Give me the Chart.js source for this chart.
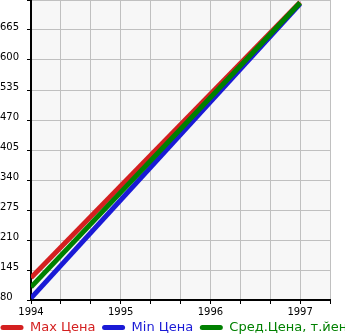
<!DOCTYPE html>
<html>
<head>
<meta charset="utf-8">
<script src="https://cdn.jsdelivr.net/npm/chart.js@4"></script>
<style>
  html, body { margin: 0; padding: 0; background: #fff; }
  #wrap { width: 345px; height: 335px; }
</style>
</head>
<body>
<div id="wrap"><canvas id="priceChart"></canvas></div>
<script>
// Chart values
const years = [1994, 1997];
const maxPrice = [128, 725];
const minPrice = [84, 722];
const avgPrice = [108, 724];
const seriesNames = ['Max Цена', 'Min Цена', 'Сред.Цена, т.йен'];
const seriesColors = ['rgb(212, 32, 32)', 'rgb(26, 26, 214)', 'rgb(0, 128, 0)'];
const yMin = 80, yMax = 730, yStep = 65;

function toPoints(values) {
    return years.map((y, i) => ({ x: y, y: values[i] }));
}

// Grey plot background
const plotBackground = {
    id: 'plotBackground',
    beforeDraw(chart) {
        const { ctx, chartArea: a } = chart;
        ctx.save();
        ctx.fillStyle = '#f7f7f7';
        ctx.fillRect(a.left, a.top, a.right - a.left, a.bottom - a.top);
        ctx.restore();
    }
};

// Legend drawn in one row, left aligned, allowed to run off the edge
const rowLegend = {
    id: 'rowLegend',
    afterDraw(chart) {
        const ctx = chart.ctx;
        const y = 327.5;
        let x = 0;
        ctx.save();
        ctx.font = '13px "DejaVu Sans"';
        ctx.textBaseline = 'middle';
        chart.data.datasets.forEach(ds => {
            ctx.strokeStyle = ds.borderColor;
            ctx.lineWidth = 5;
            ctx.lineCap = 'round';
            ctx.beginPath();
            ctx.moveTo(x + 3, y);
            ctx.lineTo(x + 21, y);
            ctx.stroke();
            ctx.fillStyle = ds.borderColor;
            ctx.fillText(ds.label, x + 30, y);
            x += 30 + ctx.measureText(ds.label).width + 6;
        });
        ctx.restore();
    }
};

const ctx = document.getElementById('priceChart').getContext('2d');
const priceChart = new Chart(ctx, {
    type: 'line',
    data: {
        datasets: [
            { label: seriesNames[0], data: toPoints(maxPrice), borderColor: seriesColors[0], order: 1 },
            { label: seriesNames[1], data: toPoints(minPrice), borderColor: seriesColors[1], order: 2 },
            { label: seriesNames[2], data: toPoints(avgPrice), borderColor: seriesColors[2], order: 0 }
        ].map(d => Object.assign(d, { borderWidth: 5, pointRadius: 0, fill: false, tension: 0 }))
    },
    options: {
        responsive: true,
        maintainAspectRatio: false,
        animation: false,
        layout: { padding: { top: 0, right: 15, bottom: 17, left: 0 } },
        plugins: {
            legend: { display: false },
            tooltip: { enabled: false }
        },
        scales: {
            x: {
                type: 'linear',
                min: years[0],
                max: years[years.length - 1] + 1 / 3,
                afterBuildTicks(scale) {
                    const t = [];
                    for (let k = 0; k <= 10; k++) t.push({ value: years[0] + k / 3 });
                    scale.ticks = t;
                },
                afterFit(scale) {
                    scale.height = 18;
                    scale.paddingLeft = 0;
                    scale.paddingRight = 0;
                },
                grid: { color: '#c0c0c0', tickColor: '#000', tickLength: 4 },
                border: { color: '#000', width: 2 },
                ticks: {
                    autoSkip: false,
                    maxRotation: 0,
                    padding: 2,
                    color: '#000',
                    font: { family: 'DejaVu Sans', size: 10 },
                    callback(v) {
                        const r = Math.round(v);
                        return Math.abs(v - r) < 1e-6 ? String(r) : '';
                    }
                }
            },
            y: {
                min: yMin,
                max: yMax,
                afterFit(scale) {
                    scale.width = 31;
                    scale.paddingTop = 0;
                    scale.paddingBottom = 0;
                },
                grid: { color: '#c0c0c0', tickColor: '#000', tickLength: 4 },
                border: { color: '#000', width: 2 },
                ticks: {
                    stepSize: yStep,
                    crossAlign: 'far',
                    labelOffset: -3,
                    color: '#000',
                    font: { family: 'DejaVu Sans', size: 10 },
                    callback(v) { return v === yMax ? '' : String(v); }
                }
            }
        }
    },
    plugins: [plotBackground, rowLegend]
});
</script>
</body>
</html>
